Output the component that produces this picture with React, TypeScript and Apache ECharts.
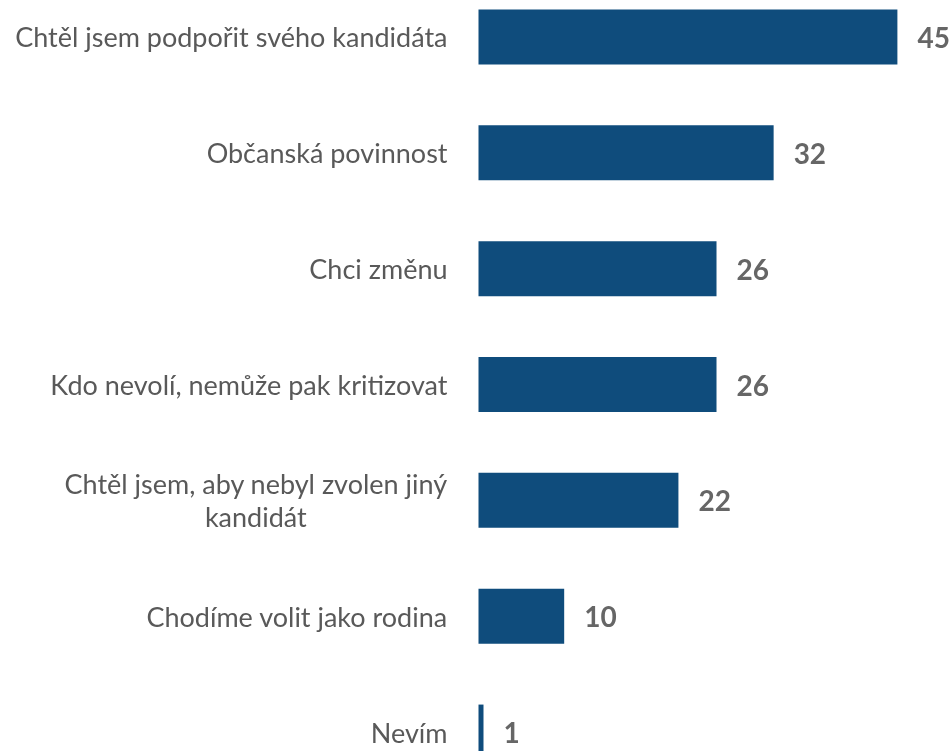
import React, { useEffect, useRef } from 'react';
import * as echarts from 'echarts';

const categories = [
  'Chtěl jsem podpořit svého kandidáta',
  'Občanská povinnost',
  'Chci změnu',
  'Kdo nevolí, nemůže pak kritizovat',
  'Chtěl jsem, aby nebyl zvolen jiný\nkandidát',
  'Chodíme volit jako rodina',
  'Nevím',
];
const values = [45, 32, 26, 26, 22, 10, 1];

const FONT = 'Lato';

export default function App() {
  const ref = useRef<HTMLDivElement>(null);
  useEffect(() => {
    const chart = echarts.init(ref.current as HTMLDivElement, null, { renderer: 'svg' });
    chart.setOption({
      animation: false,
      grid: { left: 478.5, right: 6, top: 0, bottom: 0, containLabel: false },
      xAxis: { type: 'value', min: 1, max: 50, startValue: 1, show: false },
      yAxis: {
        type: 'category',
        inverse: true,
        data: categories,
        axisLine: { show: false },
        axisTick: { show: false },
        splitLine: { show: false },
        axisLabel: {
          margin: 31,
          color: '#595959',
          fontFamily: FONT,
          fontSize: 27,
          formatter: (v: string) => v.split('\n').map((l) => `{c|${l}}`).join('\n'),
          rich: {
            c: { align: 'center', color: '#595959', fontFamily: FONT, fontSize: 27, lineHeight: 33 },
          },
        },
      },
      series: [
        {
          type: 'bar',
          data: values,
          barWidth: 55,
          barMinHeight: 5,
          itemStyle: { color: '#0F4C7C' },
          label: {
            show: true,
            position: 'right',
            distance: 20,
            color: '#666666',
            fontFamily: FONT,
            fontWeight: 'bold',
            fontSize: 28,
          },
        },
      ],
    });
    return () => chart.dispose();
  }, []);
  return (
    <div
      ref={ref}
      style={{ position: 'fixed', left: 0, top: -20.75, width: 951, height: 810.6 }}
    />
  );
}
